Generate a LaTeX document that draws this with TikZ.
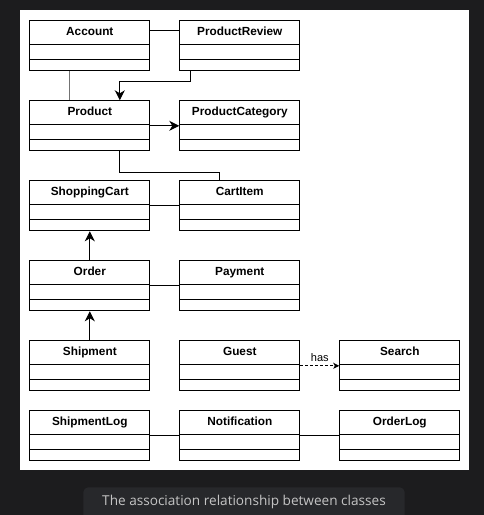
\documentclass[tikz,border=0pt]{standalone}
\usepackage{fontspec}
\setmainfont{Liberation Sans}
\newfontfamily\capfont{Open Sans}
\usetikzlibrary{arrows.meta,calc}
\definecolor{bgdark}{HTML}{1C1C1E}
\definecolor{capbox}{HTML}{27282B}
\definecolor{captext}{HTML}{C4C4C4}
\tikzset{
  clsbox/.style={draw=black, line width=1pt, fill=white, minimum width=120pt, minimum height=50pt, inner sep=0pt, anchor=north west},
  clstitle/.style={font=\fontsize{11.8}{13}\selectfont\bfseries, anchor=base, inner sep=0pt},
  clsline/.style={line width=1pt},
  conn/.style={line width=1pt},
  arr/.style={line width=1pt, -{Stealth[length=10pt, width=10pt, inset=3pt]}},
  smallarr/.style={line width=1pt, dashed, dash pattern=on 3pt off 2pt, -{Stealth[length=6pt, width=6pt, inset=1.5pt]}},
}
\newcommand\umlcls[4]{%
  \node[clsbox] (#1) at (#2,#3) {};
  \node[clstitle] (#1-t) at ([yshift=-14.7pt]#1.north) {#4};
  \draw[clsline] ([yshift=-24pt]#1.north west) -- ([yshift=-24pt]#1.north east);
  \draw[clsline] ([yshift=-39pt]#1.north west) -- ([yshift=-39pt]#1.north east);
}
\begin{document}
\begin{tikzpicture}[x=1pt, y=-1pt]
  \fill[bgdark] (0,0) rectangle (484,515);
  \useasboundingbox (0,0) rectangle (484,515);
  \fill[white] (19.7,10.3) rectangle (469,470);
  % caption
  \fill[capbox, rounded corners=5pt] (83.3,487.3) rectangle (404.7,525);
  \node[text=captext, font=\capfont\fontsize{13.6}{15}\selectfont, inner sep=0pt] (cap) at (244,502) {The association relationship between classes};
  % classes
  \umlcls{acc}{29.3}{20.3}{Account}
  \umlcls{rev}{179.3}{20.3}{ProductReview}
  \umlcls{prod}{29.3}{100.3}{Product}
  \umlcls{cat}{179.3}{100.3}{ProductCategory}
  \umlcls{cart}{29.3}{180.3}{ShoppingCart}
  \umlcls{item}{179.3}{180.3}{CartItem}
  \umlcls{order}{29.3}{260.3}{Order}
  \umlcls{pay}{179.3}{260.3}{Payment}
  \umlcls{ship}{29.3}{340.3}{Shipment}
  \umlcls{guest}{179.3}{340.3}{Guest}
  \umlcls{search}{339.3}{340.3}{Search}
  \umlcls{slog}{29.3}{410.3}{ShipmentLog}
  \umlcls{notif}{179.3}{410.3}{Notification}
  \umlcls{olog}{339.3}{410.3}{OrderLog}
  % connectors
  \draw[conn] ([yshift=-10pt]acc.north east) -- ([yshift=-10pt]rev.north west);
  \draw[conn, draw=black!55] ([xshift=-20.3pt]acc.south) -- ([xshift=-20.3pt]prod.north);
  \draw[arr] ([xshift=-49.6pt]rev.south) -- ++(0,10) -| ([xshift=30pt]prod.north);
  \draw[arr] (prod.east) -- (cat.west);
  \draw[conn] ([xshift=30pt]prod.south) -- ++(0,20.7) -| ([xshift=-20pt]item.north);
  \draw[conn] (cart.east) -- (item.west);
  \draw[arr] (order.north) -- (cart.south);
  \draw[conn] (order.east) -- (pay.west);
  \draw[arr] (ship.north) -- (order.south);
  \draw[smallarr] (guest.east) -- node[above=3pt, font=\fontsize{11}{13}\selectfont, inner sep=1pt] (haslbl) {has} (search.west);
  \draw[conn] (slog.east) -- (notif.west);
  \draw[conn] (notif.east) -- (olog.west);
\end{tikzpicture}
\end{document}
